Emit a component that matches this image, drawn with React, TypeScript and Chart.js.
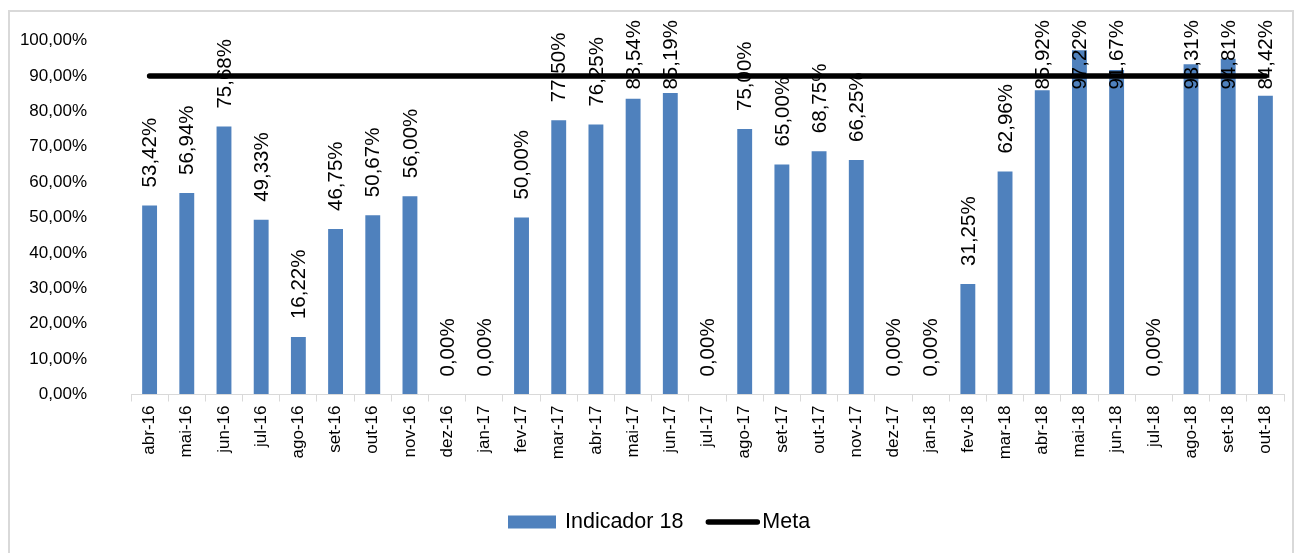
import React, { useEffect, useRef } from "react";
import { Chart, registerables } from "chart.js";

Chart.register(...registerables);

const categories = [
  "abr-16", "mai-16", "jun-16", "jul-16", "ago-16", "set-16", "out-16", "nov-16", "dez-16",
  "jan-17", "fev-17", "mar-17", "abr-17", "mai-17", "jun-17", "jul-17", "ago-17", "set-17",
  "out-17", "nov-17", "dez-17", "jan-18", "fev-18", "mar-18", "abr-18", "mai-18", "jun-18",
  "jul-18", "ago-18", "set-18", "out-18",
];

const indicador18 = [
  53.42, 56.94, 75.68, 49.33, 16.22, 46.75, 50.67, 56.0, 0.0,
  0.0, 50.0, 77.5, 76.25, 83.54, 85.19, 0.0, 75.0, 65.0,
  68.75, 66.25, 0.0, 0.0, 31.25, 62.96, 85.92, 97.22, 91.67,
  0.0, 93.31, 94.81, 84.42,
];

const metaValues = [
  90, 90, 90, 90, 90, 90, 90, 90, 90,
  90, 90, 90, 90, 90, 90, 90, 90, 90,
  90, 90, 90, 90, 90, 90, 90, 90, 90,
  90, 90, 90, 90,
];

const seriesNames = ["Indicador 18", "Meta"];
const yMin = 0;
const yMax = 100;
const yStep = 10;

const BAR_COLOR = "#4F81BD";
const FONT = "'Liberation Sans', Arial, sans-serif";

function fmtPct(v: number): string {
  return v.toFixed(2).replace(".", ",") + "%";
}

const barLabelsPlugin = {
  id: "barLabels",
  afterDatasetsDraw(chart: any) {
    const ctx = chart.ctx as CanvasRenderingContext2D;
    const meta = chart.getDatasetMeta(0);
    const values = chart.data.datasets[0].data as number[];
    ctx.save();
    ctx.font = `20.5px ${FONT}`;
    ctx.fillStyle = "#000";
    ctx.textBaseline = "middle";
    ctx.textAlign = "left";
    const minTop = 8;
    meta.data.forEach((bar: any, i: number) => {
      const text = fmtPct(values[i]);
      const w = ctx.measureText(text).width;
      let start = bar.y - 18;
      if (start - w < minTop) start = minTop + w;
      ctx.save();
      ctx.translate(bar.x + 1, start);
      ctx.rotate(-Math.PI / 2);
      ctx.fillText(text, 0, 0);
      ctx.restore();
    });
    ctx.restore();
  },
};

const legendPlugin = {
  id: "customLegend",
  afterDraw(chart: any) {
    const ctx = chart.ctx as CanvasRenderingContext2D;
    const ds = chart.data.datasets;
    const y = 510;
    let x = 498;
    ctx.save();
    ctx.font = `21.5px ${FONT}`;
    ctx.textBaseline = "middle";
    ctx.textAlign = "left";
    ctx.fillStyle = ds[0].backgroundColor;
    ctx.fillRect(x, y - 6.5, 48, 13);
    x += 48 + 9;
    ctx.fillStyle = "#000";
    ctx.fillText(ds[0].label, x, y);
    x += ctx.measureText(ds[0].label).width + 22;
    ctx.strokeStyle = ds[1].borderColor;
    ctx.lineWidth = 5.5;
    ctx.lineCap = "round";
    ctx.beginPath();
    ctx.moveTo(x + 3, y);
    ctx.lineTo(x + 52, y);
    ctx.stroke();
    x += 57;
    ctx.fillText(ds[1].label, x, y);
    ctx.restore();
  },
};

export default function App() {
  const canvasRef = useRef<HTMLCanvasElement | null>(null);

  useEffect(() => {
    if (!canvasRef.current) return;
    const chart = new Chart(canvasRef.current, {
      type: "bar",
      data: {
        labels: categories,
        datasets: [
          {
            type: "bar" as const,
            label: seriesNames[0],
            data: indicador18,
            backgroundColor: BAR_COLOR,
            borderWidth: 0,
            barPercentage: 0.4,
            categoryPercentage: 1,
            order: 1,
          } as any,
          {
            type: "line" as const,
            label: seriesNames[1],
            data: metaValues,
            borderColor: "#000000",
            backgroundColor: "#000000",
            borderWidth: 5.5,
            borderCapStyle: "round",
            pointRadius: 0,
            pointHoverRadius: 0,
            fill: false,
            order: 0,
          } as any,
        ],
      },
      options: {
        responsive: false,
        animation: false,
        devicePixelRatio: 1,
        layout: { padding: { top: 28.5, left: 0, right: 8, bottom: 87.5 } },
        plugins: {
          legend: { display: false },
          tooltip: { enabled: false },
          title: { display: false },
        },
        scales: {
          x: {
            type: "category",
            offset: true,
            grid: {
              display: true,
              offset: true,
              drawOnChartArea: false,
              drawTicks: true,
              tickLength: 7,
              color: "#d9d9d9",
              lineWidth: 1,
            },
            border: { display: true, color: "#d9d9d9", width: 1 },
            ticks: {
              autoSkip: false,
              maxRotation: 90,
              minRotation: 90,
              padding: 4,
              color: "#000",
              font: { family: FONT, size: 17 },
            },
            afterFit(scale: any) {
              scale.height = 70;
            },
          },
          y: {
            min: yMin,
            max: yMax,
            grid: {
              display: true,
              drawOnChartArea: false,
              drawTicks: true,
              tickLength: 40,
              color: "rgba(0,0,0,0)",
              tickColor: "rgba(0,0,0,0)",
            },
            border: { display: false },
            ticks: {
              stepSize: yStep,
              padding: 4,
              color: "#000",
              font: { family: FONT, size: 17 },
              callback: (v: any) => fmtPct(Number(v)),
            },
            afterFit(scale: any) {
              scale.width = 121;
            },
          },
        },
      } as any,
      plugins: [barLabelsPlugin, legendPlugin],
    });
    return () => chart.destroy();
  }, []);

  return (
    <div
      style={{
        position: "fixed",
        left: 8,
        top: 10,
        width: 1286,
        height: 560,
        boxSizing: "border-box",
        border: "2px solid #d9d9d9",
        background: "#fff",
      }}
    >
      <canvas ref={canvasRef} width={1282} height={540} style={{ display: "block" }} />
    </div>
  );
}
